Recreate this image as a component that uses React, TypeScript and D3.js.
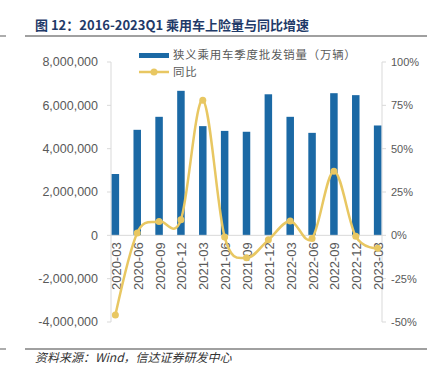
import React from "react";
import * as d3 from "d3";

const categories = ["2020-03","2020-06","2020-09","2020-12","2021-03","2021-06","2021-09","2021-12","2022-03","2022-06","2022-09","2022-12","2023-03"];
const salesValues = [2830000,4870000,5470000,6670000,5040000,4820000,4780000,6510000,5470000,4730000,6560000,6470000,5070000];
const yoyValues = [-0.46,0.014,0.08,0.09,0.78,-0.01,-0.13,-0.026,0.083,-0.018,0.37,-0.006,-0.075];
const leftTicks = [-4000000,-2000000,0,2000000,4000000,6000000,8000000];
const rightTicks = [-0.5,-0.25,0,0.25,0.5,0.75,1];
const titleText = "图 12：2016-2023Q1 乘用车上险量与同比增速";
const sourceText = "资料来源：Wind，信达证券研发中心";
const legendBar = "狭义乘用车季度批发销量（万辆）";
const legendLine = "同比";

const W = 438, H = 379;
const plotL = 111, plotR = 382, plotT = 62, plotB = 322;
const BAR = "#1b69a5";
const LINE = "#e8c762";
const GRAY = "#595959";
const AXIS = "#d9d9d9";

export default function App() {
  const x = d3.scalePoint<string>().domain(categories).range([plotL, plotR]).padding(0.2);
  const yL = d3.scaleLinear().domain([-4000000, 8000000]).range([plotB, plotT]);
  const yR = d3.scaleLinear().domain([-0.5, 1]).range([plotB, plotT]);
  const fmt = d3.format(",");
  const fmtL = (v: number) => (v < 0 ? "-" + fmt(-v) : fmt(v));
  const fmtR = (v: number) => (v < 0 ? "-" : "") + Math.round(Math.abs(v) * 100) + "%";
  const barW = 7.5;
  const line = d3.line<number>()
    .x((_, i) => x(categories[i]) as number)
    .y((d) => yR(d))
    .curve(d3.curveCatmullRom.alpha(0));
  const zeroY = yL(0);
  const sans = "'Liberation Sans', Arial, sans-serif";
  const cjk = "'Noto Sans CJK SC', sans-serif";

  return (
    <svg width={W} height={H} style={{ position: "absolute", left: 0, top: 0, background: "#fff" }}>
      <rect width={W} height={H} fill="#fff" />
      {/* title */}
      <text x={35} y={30} fontFamily={cjk} fontWeight="bold" fontSize={13} fill="#1f3a68">{titleText}</text>
      <line x1={0} x2={6} y1={36} y2={36} stroke="#808080" strokeWidth={1.3} />
      <line x1={25} x2={427} y1={36} y2={36} stroke="#808080" strokeWidth={1.3} />

      {/* axes */}
      <line x1={plotL} x2={plotL} y1={plotT} y2={plotB} stroke={AXIS} strokeWidth={1} />
      <line x1={plotR} x2={plotR} y1={plotT} y2={plotB} stroke={AXIS} strokeWidth={1} />
      {leftTicks.map((t) => (
        <g key={"l" + t}>
          <line x1={plotL - 4} x2={plotL} y1={yL(t)} y2={yL(t)} stroke={AXIS} />
          <text x={98} y={yL(t)} dy="0.35em" textAnchor="end" fontFamily={sans} fontSize={12.5} fill={GRAY}>{fmtL(t)}</text>
        </g>
      ))}
      {rightTicks.map((t) => (
        <g key={"r" + t}>
          <line x1={plotR} x2={plotR + 4} y1={yR(t)} y2={yR(t)} stroke={AXIS} />
          <text x={391} y={yR(t)} dy="0.35em" textAnchor="start" fontFamily={sans} fontSize={11} fill={GRAY}>{fmtR(t)}</text>
        </g>
      ))}

      {/* bars */}
      {salesValues.map((v, i) => (
        <rect key={"b" + i} x={(x(categories[i]) as number) - barW / 2} y={yL(Math.max(0, v))} width={barW}
          height={Math.abs(yL(v) - zeroY)} fill={BAR} />
      ))}
      <line x1={plotL} x2={plotR} y1={zeroY} y2={zeroY} stroke={AXIS} strokeWidth={1} />

      {/* category labels */}
      {categories.map((c) => (
        <text key={"c" + c} transform={`translate(${(x(c) as number) + 1},${zeroY + 7}) rotate(-90)`} dy="0.35em"
          textAnchor="end" fontFamily={sans} fontSize={13} fill={GRAY}>{c}</text>
      ))}

      {/* line */}
      <path d={line(yoyValues) || ""} fill="none" stroke={LINE} strokeWidth={2.5} />
      {yoyValues.map((v, i) => (
        <circle key={"p" + i} cx={x(categories[i]) as number} cy={yR(v)} r={3.5} fill={LINE} />
      ))}

      {/* legend */}
      <rect x={139} y={53} width={30} height={5} fill={BAR} />
      <text x={173} y={55.5} dy="0.35em" fontFamily={cjk} fontSize={11.4} letterSpacing={0.85} fill={GRAY}>{legendBar}</text>
      <line x1={139} x2={169} y1={72} y2={72} stroke={LINE} strokeWidth={2.5} />
      <circle cx={154} cy={72} r={3.5} fill={LINE} />
      <text x={173} y={72.5} dy="0.35em" fontFamily={cjk} fontSize={11.4} letterSpacing={0.85} fill={GRAY}>{legendLine}</text>

      {/* footer */}
      <line x1={0} x2={6} y1={349} y2={349} stroke="#808080" strokeWidth={1.3} />
      <line x1={25} x2={427} y1={349} y2={349} stroke="#808080" strokeWidth={1.3} />
      <text x={35} y={362} fontFamily={cjk} fontStyle="italic" fontSize={12} fill="#333">{sourceText}</text>
    </svg>
  );
}
